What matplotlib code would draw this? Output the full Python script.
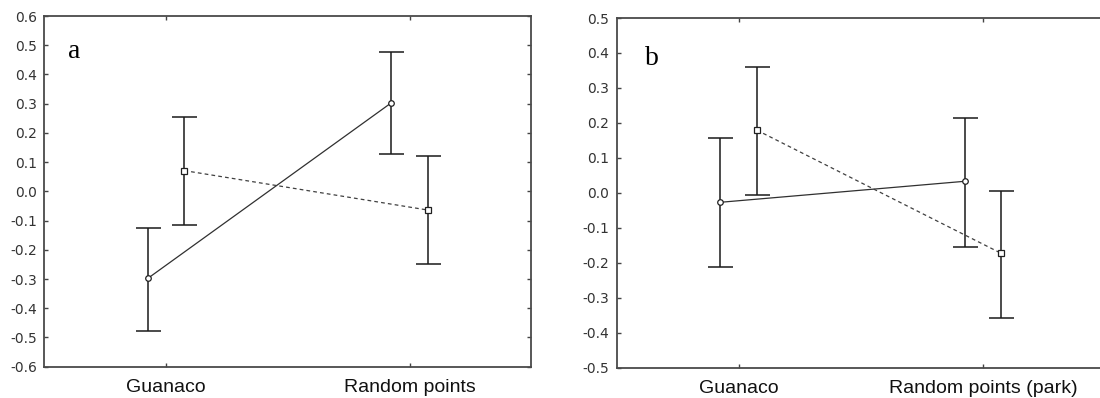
import matplotlib
matplotlib.use('Agg')
import matplotlib.pyplot as plt
import numpy as np

# ---- data ----
categories_a = ['Guanaco', 'Random points']
categories_b = ['Guanaco', 'Random points (park)']

a_solid_mean = [-0.298, 0.303]
a_solid_low = [-0.477, 0.128]
a_solid_high = [-0.124, 0.477]
a_dash_mean = [0.071, -0.064]
a_dash_low = [-0.116, -0.247]
a_dash_high = [0.253, 0.121]

b_solid_mean = [-0.027, 0.033]
b_solid_low = [-0.212, -0.154]
b_solid_high = [0.157, 0.215]
b_dash_mean = [0.179, -0.173]
b_dash_low = [-0.005, -0.357]
b_dash_high = [0.360, 0.006]

yticks_a = [-0.6, -0.5, -0.4, -0.3, -0.2, -0.1, 0.0, 0.1, 0.2, 0.3, 0.4, 0.5, 0.6]
yticks_b = [-0.5, -0.4, -0.3, -0.2, -0.1, 0.0, 0.1, 0.2, 0.3, 0.4, 0.5]

OFF = 0.075
W, H = 1100, 398
fig = plt.figure(figsize=(W / 100, H / 100), dpi=100)
fig.patch.set_facecolor('white')

ax_a = fig.add_axes([44.2 / W, (H - 366.7) / H, 487.2 / W, 350.7 / H])
ax_b = fig.add_axes([616.6 / W, (H - 367.7) / H, 488.4 / W, 349.7 / H])


def draw(ax, cats, sm, sl, sh, dm, dl, dh, yt, ylim, letter, lpos):
    x = np.arange(len(cats))
    sm, sl, sh = map(np.asarray, (sm, sl, sh))
    dm, dl, dh = map(np.asarray, (dm, dl, dh))
    # solid series (circles)
    ax.plot(x - OFF, sm, '-', color='#303030', lw=0.9, zorder=2)
    ax.errorbar(x - OFF, sm, yerr=[sm - sl, sh - sm], fmt='none', ecolor='#1a1a1a',
                elinewidth=1.1, capsize=9, capthick=1.1, zorder=3)
    ax.plot(x - OFF, sm, 'o', ms=4, mfc='white', mec='#202020', mew=0.9, zorder=4)
    # dashed series (squares)
    ax.plot(x + OFF, dm, '--', color='#404040', lw=0.9, dashes=(3, 2.5), zorder=2)
    ax.errorbar(x + OFF, dm, yerr=[dm - dl, dh - dm], fmt='none', ecolor='#1a1a1a',
                elinewidth=1.1, capsize=9, capthick=1.1, zorder=3)
    ax.plot(x + OFF, dm, 's', ms=4.5, mfc='white', mec='#202020', mew=0.9, zorder=4)

    ax.set_xlim(-0.5, 1.5)
    ax.set_ylim(*ylim)
    ax.set_xticks(x)
    ax.set_xticklabels(cats, fontsize=14, family='Liberation Sans', color='#111111')
    ax.set_yticks(yt)
    ax.set_yticklabels([f'{v:.1f}' for v in yt], fontsize=10,
                       family='DejaVu Sans', color='#333333')
    ax.tick_params(axis='x', direction='in', length=3, width=1, color='#444444',
                   pad=8.5, top=True, bottom=True)
    ax.tick_params(axis='y', direction='in', length=3, width=1, color='#444444',
                   pad=5.3, left=True, right=True)
    for s in ax.spines.values():
        s.set_color('#4a4a4a')
        s.set_linewidth(1.3)
    ax.text(lpos[0], lpos[1], letter, transform=ax.transAxes, fontsize=20,
            family='Liberation Serif', va='baseline', ha='left', color='black')


draw(ax_a, categories_a, a_solid_mean, a_solid_low, a_solid_high,
     a_dash_mean, a_dash_low, a_dash_high, yticks_a, (-0.6, 0.6), 'a', (0.049, 0.879))
draw(ax_b, categories_b, b_solid_mean, b_solid_low, b_solid_high,
     b_dash_mean, b_dash_low, b_dash_high, yticks_b, (-0.5, 0.5), 'b', (0.0576, 0.866))

fig.savefig('out.png', dpi=100, facecolor='white')
